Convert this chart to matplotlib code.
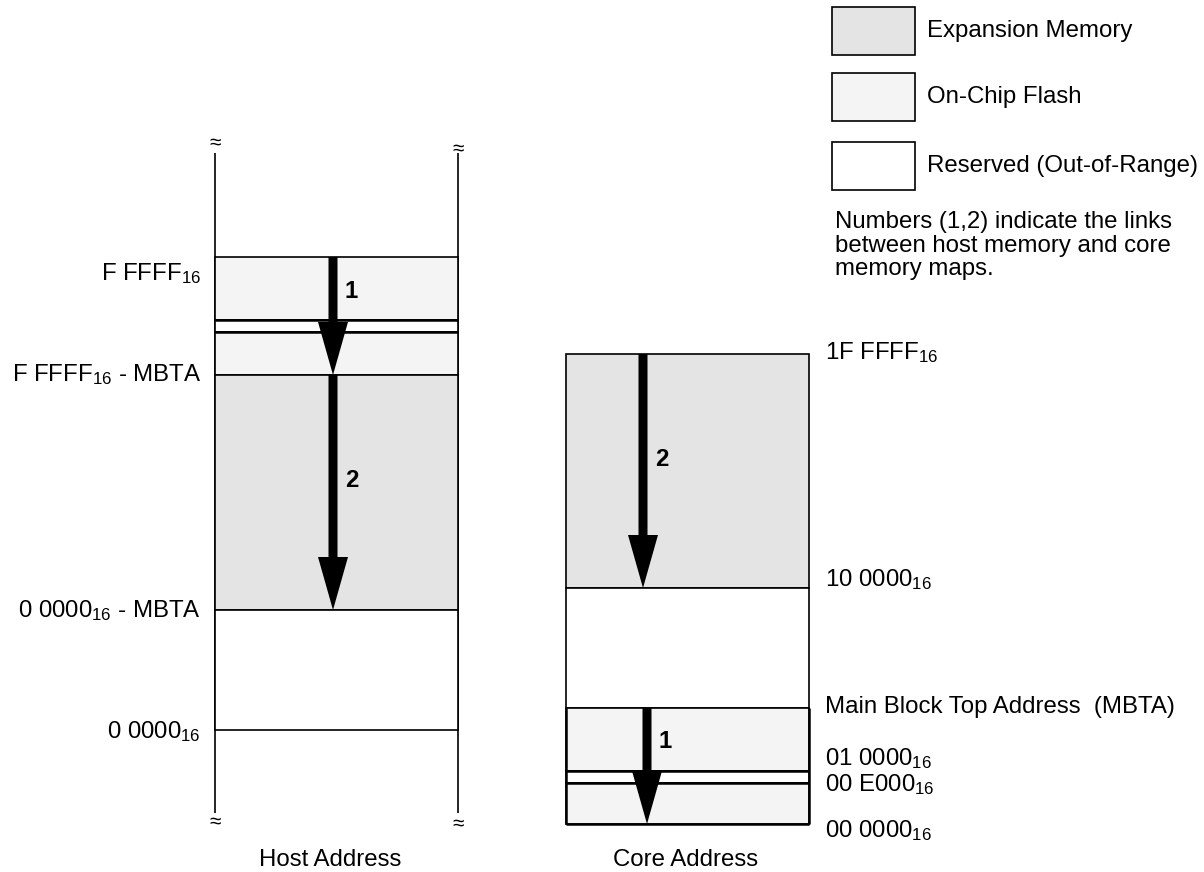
import matplotlib.pyplot as plt
from matplotlib.patches import Rectangle

plt.rcParams['font.family'] = ['Liberation Sans', 'DejaVu Sans']
plt.rcParams['mathtext.fontset'] = 'custom'
plt.rcParams['mathtext.rm'] = 'Liberation Sans'
plt.rcParams['mathtext.it'] = 'Liberation Sans:italic'
plt.rcParams['mathtext.bf'] = 'Liberation Sans:bold'

# colours per memory kind
fill = {'expansion': '#e4e4e4', 'flash': '#f4f4f4', 'reserved': 'white'}

# host map: segment edges (diagram units, top -> bottom) and kinds
host_edges = [257, 320, 332, 375, 610, 730]
host_kinds = ['flash', 'reserved', 'flash', 'expansion', 'reserved']
host_labels = [r'F FFFF$_{16}$', r'F FFFF$_{16}$ - MBTA',
               r'0 0000$_{16}$ - MBTA', r'0 0000$_{16}$']
host_label_y = [280, 381, 617, 738]

# core map
core_edges = [354, 588, 708, 771, 783, 824]
core_kinds = ['expansion', 'reserved', 'flash', 'reserved', 'flash']
core_labels = [r'1F FFFF$_{16}$', r'10 0000$_{16}$',
               'Main Block Top Address  (MBTA)', r'01 0000$_{16}$',
               r'00 E000$_{16}$', r'00 0000$_{16}$']
core_label_y = [359, 586, 713, 765, 791, 837]

# links between the maps (number, x, start, end)
host_links = [('1', 333, 257, 375), ('2', 333, 375, 610)]
core_links = [('2', 643, 354, 588), ('1', 647, 708, 824)]

legend_names = ['Expansion Memory', 'On-Chip Flash', 'Reserved (Out-of-Range)']
legend_kinds = ['expansion', 'flash', 'reserved']

fig = plt.figure(figsize=(12.04, 8.72), dpi=100)
ax = fig.add_axes([0, 0, 1, 1])
ax.set_xlim(0, 1204)
ax.set_ylim(872, 0)
ax.axis('off')

FS = 17.3


def draw_map(left, right, edges, kinds, lw_thick=()):
    for i, k in enumerate(kinds):
        top, bot = edges[i], edges[i + 1]
        ax.bar((left + right) / 2, bot - top, width=right - left, bottom=top,
               color=fill[k], edgecolor='black', linewidth=1.2, zorder=2)
    for y in lw_thick:
        ax.hlines(y, left, right, color='black', linewidth=1.8, zorder=3)


# host
hl, hr = 215, 458
ax.vlines([hl, hr], 153, 813, color='black', linewidth=1.2, zorder=1)
draw_map(hl, hr, host_edges, host_kinds, lw_thick=[320, 332])
for x, yt, yb in [(hl, 143, 822), (hr, 149, 824)]:
    ax.text(x, yt, '≈', ha='center', va='center', fontsize=15)
    ax.text(x, yb, '≈', ha='center', va='center', fontsize=15)

for lab, y in zip(host_labels, host_label_y):
    ax.text(201, y, lab, ha='right', va='baseline', fontsize=FS)

# core
cl, cr = 566, 809
draw_map(cl, cr, core_edges, core_kinds, lw_thick=[771, 783, 824])
ax.vlines([cl, cr], 708, 824, color='black', linewidth=1.8, zorder=3)
for lab, y in zip(core_labels, core_label_y):
    ax.text(825, y, lab, ha='left', va='baseline', fontsize=FS)

# arrows
for num, x, y0, y1 in host_links + core_links:
    ax.arrow(x, y0, 0, y1 - y0, width=9, head_width=30, head_length=53,
             length_includes_head=True, fc='black', ec='black', lw=0, zorder=4)
    ax.text(x + 12, y0 + (y1 - y0) * (0.29 if num == '1' else 0.45), num,
            ha='left', va='center', fontsize=FS, fontweight='bold', zorder=5)

ax.text(330, 866, 'Host Address', ha='center', va='baseline', fontsize=FS)
ax.text(686, 866, 'Core Address', ha='center', va='baseline', fontsize=FS)

# legend
box_tops = [7, 73, 142]
for name, kind, yt in zip(legend_names, legend_kinds, box_tops):
    ax.add_patch(Rectangle((832, yt), 83, 48, facecolor=fill[kind],
                           edgecolor='black', linewidth=1.2))
    ax.text(927, yt + 24, name, ha='left', va='center', fontsize=FS)

ax.text(835, 211, 'Numbers (1,2) indicate the links\nbetween host memory and core\nmemory maps.',
        ha='left', va='top', fontsize=FS, linespacing=1.1)

fig.savefig('out.png', dpi=100)
